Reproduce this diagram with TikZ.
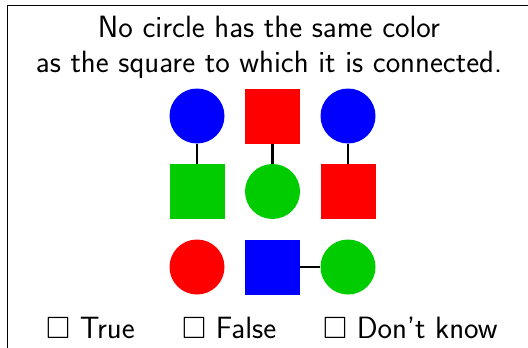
\documentclass[tikz,border=0pt]{standalone}
\usepackage{amssymb}
\definecolor{cblue}{RGB}{0,0,255}
\definecolor{cred}{RGB}{255,0,0}
\definecolor{cgreen}{RGB}{0,204,0}
\tikzset{
  circ/.style={circle,minimum size=55pt,inner sep=0pt,draw=none},
  sq/.style={rectangle,minimum size=55pt,inner sep=0pt,draw=none},
  link/.style={line width=2.6pt,black},
  txt/.style={font=\sffamily\fontsize{30.8}{36}\selectfont,inner sep=0pt},
}
\begin{document}
\begin{tikzpicture}[x=1pt,y=-1pt]
\useasboundingbox (0,0) rectangle (528,348);
\draw[line width=1pt] (7.5,348) -- (7.5,5.5) -- (528,5.5);
\node[txt,anchor=base] (t1) at (269,37) {No circle has the same color};
\node[txt,anchor=base] (t2) at (269,72) {as the square to which it is connected.};
% row 1
\node[circ,fill=cblue] (a1) at (197,116) {};
\node[sq,fill=cred] (b1) at (272.5,116) {};
\node[circ,fill=cblue] (c1) at (348,116) {};
% row 2
\node[sq,fill=cgreen] (a2) at (197,191.5) {};
\node[circ,fill=cgreen] (b2) at (272.5,191.5) {};
\node[sq,fill=cred] (c2) at (348,191.5) {};
% row 3
\node[circ,fill=cred] (a3) at (197,267) {};
\node[sq,fill=cblue] (b3) at (272.5,267) {};
\node[circ,fill=cgreen] (c3) at (348,267) {};
\draw[link] (a1) -- (a2);
\draw[link] (b1) -- (b2);
\draw[link] (c1) -- (c2);
\draw[link] (b3) -- (c3);
\node[txt,anchor=base west] (o1) at (46,338) {$\square$ True};
\node[txt,anchor=base west] (o2) at (182,338) {$\square$ False};
\node[txt,anchor=base west] (o3) at (323,338) {$\square$ Don't know};
\end{tikzpicture}
\end{document}
